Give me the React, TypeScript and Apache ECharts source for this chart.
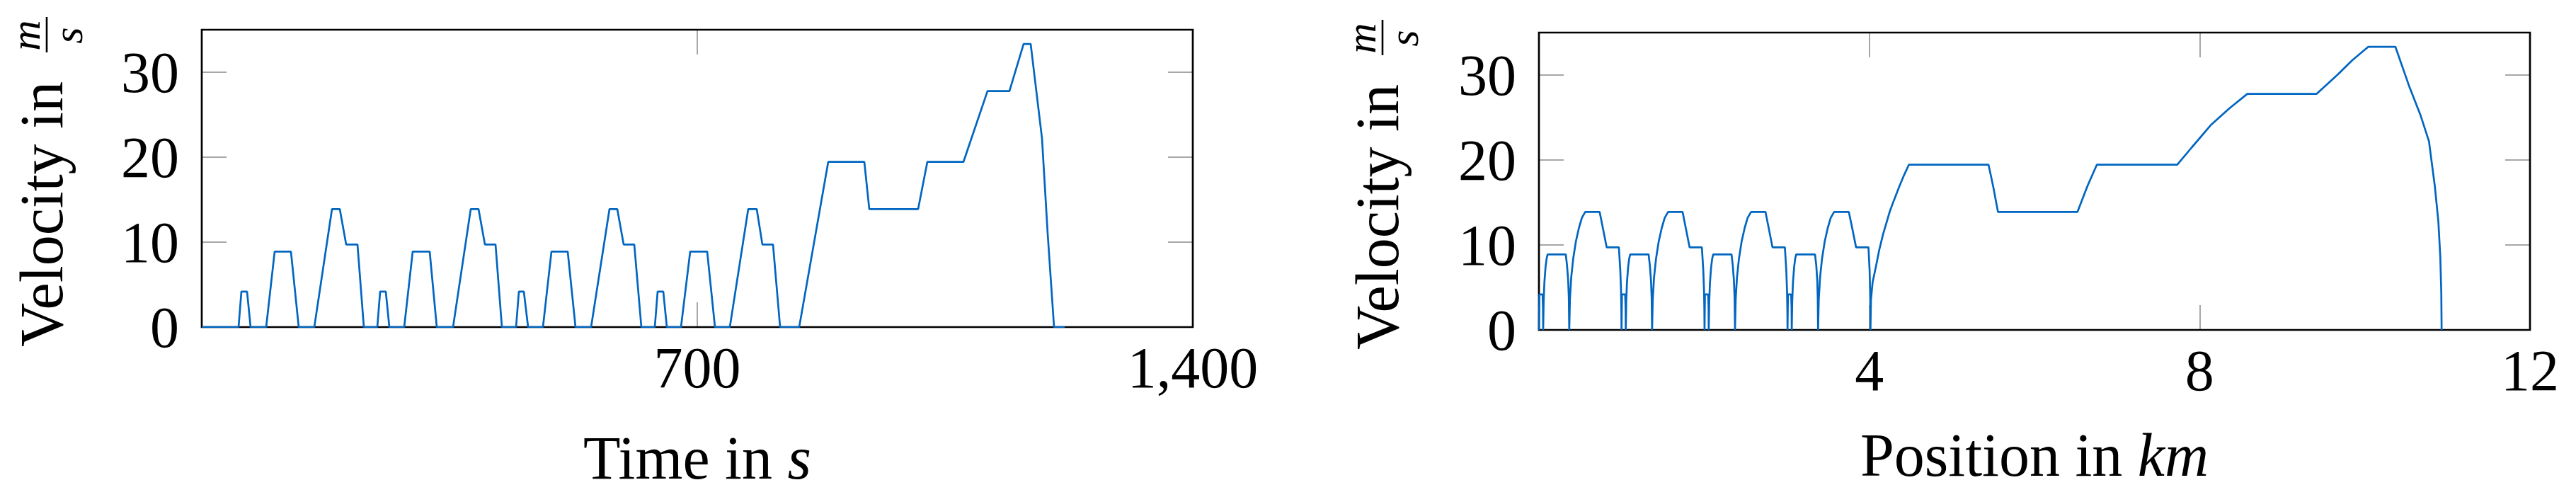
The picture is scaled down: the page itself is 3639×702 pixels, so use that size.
import React, { useEffect, useRef } from "react";
import * as echarts from "echarts";

// ---- Left chart: velocity over time ----
const timeS = [
  0, 52, 56, 64, 69, 91, 103, 126, 137, 159, 184, 195, 204, 220, 229,
  248, 252, 260, 265, 286, 298, 322, 332, 355, 380, 391, 400, 415, 424,
  444, 448, 455, 461, 482, 494, 517, 528, 550, 576, 587, 596, 611, 621,
  640, 644, 652, 657, 677, 690, 714, 725, 746, 772, 784, 792, 807, 817,
  844, 885, 936, 943, 1012, 1025, 1076, 1110, 1141, 1161, 1171, 1187, 1195, 1204, 1219,
];
const velocityOverTime = [
  0, 0, 4.17, 4.17, 0, 0, 8.89, 8.89, 0, 0, 13.89, 13.89, 9.72, 9.72, 0,
  0, 4.17, 4.17, 0, 0, 8.89, 8.89, 0, 0, 13.89, 13.89, 9.72, 9.72, 0,
  0, 4.17, 4.17, 0, 0, 8.89, 8.89, 0, 0, 13.89, 13.89, 9.72, 9.72, 0,
  0, 4.17, 4.17, 0, 0, 8.89, 8.89, 0, 0, 13.89, 13.89, 9.72, 9.72, 0,
  0, 19.44, 19.44, 13.89, 13.89, 19.44, 19.44, 27.78, 27.78, 33.33, 33.33, 22.2, 11.0, 0, 0,
];

// ---- Right chart: velocity over position ----
const positionKm = [
  0, 0.005, 0.044, 0.049, 0.051, 0.057, 0.066, 0.08, 0.093, 0.105, 0.325, 0.34, 0.354, 0.362, 0.367,
  0.375, 0.391, 0.415, 0.447, 0.484, 0.52, 0.56, 0.735, 0.778, 0.82, 0.968, 0.985, 0.994, 0.998, 1.0,
  1.005, 1.044, 1.049, 1.051, 1.057, 1.066, 1.08, 1.093, 1.105, 1.328, 1.343, 1.357, 1.365, 1.37,
  1.378, 1.394, 1.418, 1.45, 1.487, 1.523, 1.564, 1.739, 1.782, 1.824, 1.973, 1.99, 1.999, 2.003, 2.005,
  2.01, 2.049, 2.054, 2.056, 2.062, 2.071, 2.085, 2.098, 2.11, 2.332, 2.347, 2.361, 2.369, 2.374,
  2.382, 2.398, 2.422, 2.454, 2.491, 2.527, 2.568, 2.743, 2.786, 2.828, 2.978, 2.995, 3.004, 3.008, 3.01,
  3.015, 3.054, 3.059, 3.061, 3.067, 3.076, 3.09, 3.103, 3.115, 3.343, 3.358, 3.37, 3.376, 3.38,
  3.388, 3.404, 3.428, 3.46, 3.497, 3.533, 3.574, 3.752, 3.797, 3.84, 3.99, 4.004, 4.01, 4.013, 4.014,
  4.02, 4.04, 4.079, 4.12, 4.165, 4.25, 4.3, 4.364, 4.42, 4.479, 5.444, 5.5, 5.558, 6.521, 6.64, 6.755,
  7.729, 7.906, 8.134, 8.363, 8.577, 9.415, 9.677, 9.849, 10.043, 10.37, 10.533, 10.677, 10.777,
  10.848, 10.891, 10.914, 10.926, 10.93,
];
const velocityOverPosition = [
  0, 4.17, 4.17, 2.6, 0, 3.4, 5.6, 7.4, 8.4, 8.89, 8.89, 7.6, 5.8, 3.8, 0,
  3.6, 6.2, 8.4, 10.4, 12.0, 13.2, 13.89, 13.89, 11.8, 9.72, 9.72, 7.0, 4.6, 2.4, 0,
  4.17, 4.17, 2.6, 0, 3.4, 5.6, 7.4, 8.4, 8.89, 8.89, 7.6, 5.8, 3.8, 0,
  3.6, 6.2, 8.4, 10.4, 12.0, 13.2, 13.89, 13.89, 11.8, 9.72, 9.72, 7.0, 4.6, 2.4, 0,
  4.17, 4.17, 2.6, 0, 3.4, 5.6, 7.4, 8.4, 8.89, 8.89, 7.6, 5.8, 3.8, 0,
  3.6, 6.2, 8.4, 10.4, 12.0, 13.2, 13.89, 13.89, 11.8, 9.72, 9.72, 7.0, 4.6, 2.4, 0,
  4.17, 4.17, 2.6, 0, 3.4, 5.6, 7.4, 8.4, 8.89, 8.89, 7.6, 5.8, 3.8, 0,
  3.6, 6.2, 8.4, 10.4, 12.0, 13.2, 13.89, 13.89, 11.8, 9.72, 9.72, 7.0, 4.6, 2.4, 0,
  3.5, 5.6, 7.4, 9.4, 11.2, 14.0, 15.3, 16.9, 18.2, 19.44, 19.44, 16.9, 13.89, 13.89, 16.9, 19.44,
  19.44, 21.5, 24.1, 26.1, 27.78, 27.78, 30.1, 31.75, 33.33, 33.33, 28.8, 25.2, 22.2,
  16.9, 12.7, 8.6, 4.4, 0,
];

// ---- Axis ranges, ticks and labels ----
const timeRange = [0, 1400];
const timeLabels = [700, 1400];
const timeTicks = [700];
const positionRange = [0, 12];
const positionLabels = [4, 8, 12];
const positionTicks = [4, 8];
const velocityRange = [0, 35];
const velocityLabels = [0, 10, 20, 30];
const velocityTicks = [10, 20, 30];

const FONT = '"Liberation Serif", "Times New Roman", serif';
const BLUE = "#0066C1";
const TICK_COLOR = "#8a8a8a";

const fmtThousands = (v: number) => new Intl.NumberFormat("en-US").format(v);

const tickStyle = (vals: number[]) => ({
  show: true, inside: true, length: 35, customValues: vals.slice(),
  lineStyle: { color: TICK_COLOR, width: 1.5 },
});
const noLine = () => ({ show: false, onZero: false });

function xAxesFor(gridIndex: number, range: number[], ticks: number[], labels: number[], fmt: (v: number) => string) {
  return [
    {
      type: "value", gridIndex, position: "bottom", min: range[0], max: range[1],
      axisLine: noLine(), splitLine: { show: false },
      axisTick: tickStyle(ticks),
      axisLabel: { show: true, customValues: labels.slice(), formatter: fmt, fontFamily: FONT, fontSize: 82, color: "#000", margin: 16 },
    },
    {
      type: "value", gridIndex, position: "top", min: range[0], max: range[1],
      axisLine: noLine(), splitLine: { show: false },
      axisTick: tickStyle(ticks), axisLabel: { show: false },
    },
  ];
}

function yAxesFor(gridIndex: number) {
  return [
    {
      type: "value", gridIndex, position: "left", min: velocityRange[0], max: velocityRange[1],
      axisLine: noLine(), splitLine: { show: false },
      axisTick: tickStyle(velocityTicks),
      axisLabel: { show: true, customValues: velocityLabels.slice(), fontFamily: FONT, fontSize: 82, color: "#000", margin: 32 },
    },
    {
      type: "value", gridIndex, position: "right", min: velocityRange[0], max: velocityRange[1],
      axisLine: noLine(), splitLine: { show: false },
      axisTick: tickStyle(velocityTicks), axisLabel: { show: false },
    },
  ];
}

function yTitle(x: number, y: number) {
  return {
    type: "group", x, y, rotation: Math.PI / 2,
    children: [
      { type: "text", x: 0, y: -29, style: { text: "Velocity in", fontFamily: FONT, fontSize: 86, fill: "#000", align: "left", verticalAlign: "middle" } },
      { type: "text", x: 440, y: -52, style: { text: "m", fontFamily: FONT, fontStyle: "italic", fontSize: 60, fill: "#000", align: "center", verticalAlign: "middle" } },
      { type: "line", shape: { x1: 416, y1: -22, x2: 466, y2: -22 }, style: { stroke: "#000", lineWidth: 2.6 } },
      { type: "text", x: 440, y: 8, style: { text: "s", fontFamily: FONT, fontStyle: "italic", fontSize: 60, fill: "#000", align: "center", verticalAlign: "middle" } },
    ],
  };
}

function xTitle(x: number, y: number, plain: string, italic: string) {
  return {
    type: "text", x, y,
    style: {
      text: `{a|${plain}}{b|${italic}}`,
      align: "center", verticalAlign: "middle",
      rich: {
        a: { fontFamily: FONT, fontSize: 86, fill: "#000" },
        b: { fontFamily: FONT, fontSize: 86, fontStyle: "italic", fill: "#000" },
      },
    },
  };
}

export default function App() {
  const ref = useRef<HTMLDivElement>(null);
  useEffect(() => {
    document.body.style.margin = "0";
    const chart = echarts.init(ref.current!, null, { renderer: "svg", width: 3639, height: 702 });
    const leftData = timeS.map((t, i) => [t, velocityOverTime[i]]);
    const rightData = positionKm.map((p, i) => [p, velocityOverPosition[i]]);
    const gridStyle = { show: true, z: 1, borderColor: "#000", borderWidth: 2.7, backgroundColor: "transparent", containLabel: false };
    chart.setOption({
      animation: false,
      backgroundColor: "#fff",
      grid: [
        { ...gridStyle, left: 285, top: 42, width: 1400, height: 420 },
        { ...gridStyle, left: 2174, top: 46, width: 1400, height: 420 },
      ],
      xAxis: [
        ...xAxesFor(0, timeRange, timeTicks, timeLabels, fmtThousands),
        ...xAxesFor(1, positionRange, positionTicks, positionLabels, (v: number) => String(v)),
      ],
      yAxis: [...yAxesFor(0), ...yAxesFor(1)],
      series: [
        { type: "line", xAxisIndex: 0, yAxisIndex: 0, z: 3, data: leftData, showSymbol: false, symbol: "none", lineStyle: { color: BLUE, width: 2.7 }, itemStyle: { color: BLUE } },
        { type: "line", xAxisIndex: 2, yAxisIndex: 2, z: 3, data: rightData, showSymbol: false, symbol: "none", lineStyle: { color: BLUE, width: 2.7 }, itemStyle: { color: BLUE } },
      ],
      graphic: [
        yTitle(88, 490),
        yTitle(1975, 494),
        xTitle(985, 647, "Time in ", "s"),
        xTitle(2874, 643, "Position in ", "km"),
      ],
    });
    return () => chart.dispose();
  }, []);
  return <div ref={ref} style={{ width: 3639, height: 702 }} />;
}
